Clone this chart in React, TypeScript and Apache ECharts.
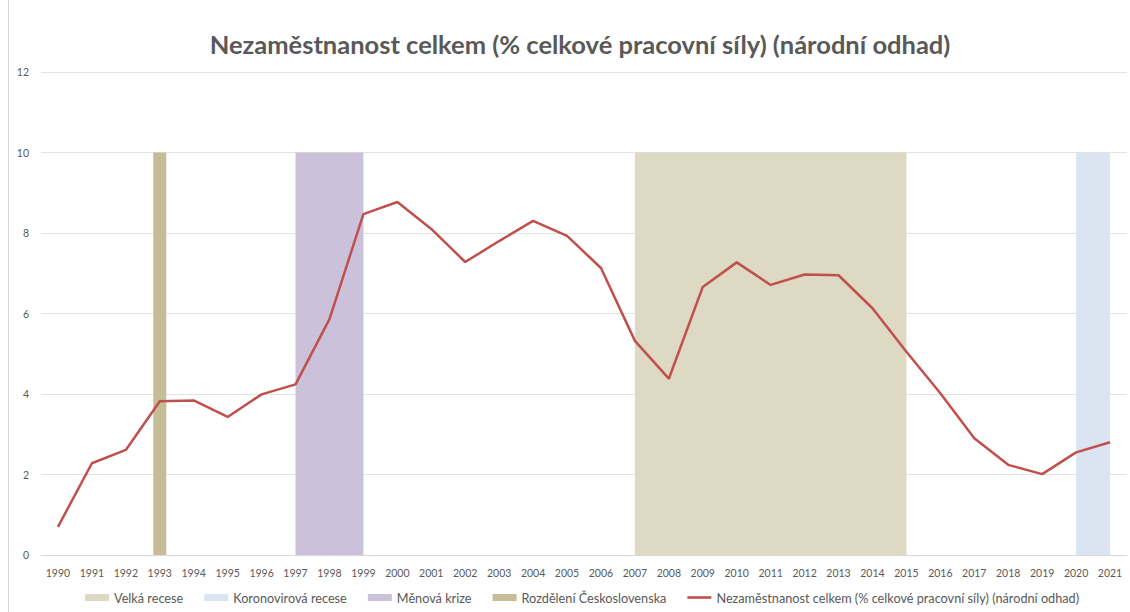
import React, { useEffect, useRef } from "react";
import * as echarts from "echarts";

const years = ["1990","1991","1992","1993","1994","1995","1996","1997","1998","1999","2000","2001","2002","2003","2004","2005","2006","2007","2008","2009","2010","2011","2012","2013","2014","2015","2016","2017","2018","2019","2020","2021"];
const unemployment = [0.70,2.28,2.61,3.82,3.84,3.43,3.99,4.24,5.86,8.47,8.77,8.10,7.28,7.80,8.30,7.93,7.13,5.32,4.38,6.66,7.27,6.71,6.97,6.95,6.13,5.05,4.02,2.90,2.24,2.01,2.55,2.80];
const bandHeight = 10;
const velkaRecese = ["2007","2008","2009","2010","2011","2012","2013","2014","2015"];
const koronaRecese = ["2020","2021"];
const menovaKrize = ["1997","1998","1999"];
const rozdeleni = ["1993"];
const yTicks = [0, 2, 4, 6, 8, 10, 12];

const LINE_NAME = "Nezaměstnanost celkem (% celkové pracovní síly) (národní odhad)";
const FONT = "Lato";

function band(list: string[]) {
  return years.map((y) => (list.includes(y) ? bandHeight : null));
}

export default function App() {
  const ref = useRef<HTMLDivElement>(null);
  useEffect(() => {
    const chart = echarts.init(ref.current!, undefined, { renderer: "svg" });
    const areaSeries = (name: string, list: string[], color: string) => ({
      name,
      type: "line",
      data: band(list),
      symbol: "none",
      lineStyle: { width: 0, color },
      itemStyle: { color },
      areaStyle: { color, opacity: 1 },
      connectNulls: false,
      z: 1,
    });
    chart.setOption({
      animation: false,
      textStyle: { fontFamily: FONT },
      title: {
        text: "Nezaměstnanost celkem (% celkové pracovní síly) (národní odhad)",
        left: 575,
        textAlign: "center",
        top: 26,
        textStyle: { fontSize: 25.5, fontWeight: "bold", color: "#595959", fontFamily: FONT },
      },
      grid: { left: 41, right: 3, top: 72, bottom: 57, containLabel: false },
      xAxis: {
        type: "category",
        data: years,
        boundaryGap: true,
        axisLine: { show: true, lineStyle: { color: "#D9D9D9", width: 1 } },
        axisTick: { show: false },
        axisLabel: { color: "#595959", fontSize: 10.5, margin: 12, interval: 0, fontFamily: FONT },
        splitLine: { show: false },
      },
      yAxis: {
        type: "value",
        min: yTicks[0],
        max: yTicks[yTicks.length - 1],
        interval: 2,
        axisLine: { show: false },
        axisTick: { show: false },
        axisLabel: { color: "#595959", fontSize: 10.5, margin: 12, fontFamily: FONT },
        splitLine: { lineStyle: { color: "#E3E3E3", width: 1 } },
      },
      legend: {
        bottom: 3,
        left: 80,
        itemGap: 21,
        itemWidth: 24,
        itemHeight: 7,
        textStyle: { color: "#595959", fontSize: 12.7, fontFamily: FONT },
        data: [
          { name: "Velká recese", icon: "rect" },
          { name: "Koronovirová recese", icon: "rect" },
          { name: "Měnová krize", icon: "rect" },
          { name: "Rozdělení Československa", icon: "rect" },
          { name: LINE_NAME, icon: "path://M0,0 L24,0 L24,2.6 L0,2.6 Z" },
        ],
      },
      series: [
        areaSeries("Velká recese", velkaRecese, "#DDD9C3"),
        areaSeries("Koronovirová recese", koronaRecese, "#DBE5F1"),
        areaSeries("Měnová krize", menovaKrize, "#CCC1DA"),
        {
          name: "Rozdělení Československa",
          type: "bar",
          data: band(rozdeleni),
          barWidth: 13,
          itemStyle: { color: "#C4BD97" },
          z: 1,
        },
        {
          name: LINE_NAME,
          type: "line",
          data: unemployment,
          symbol: "none",
          lineStyle: { color: "#C0504D", width: 2.5 },
          itemStyle: { color: "#C0504D" },
          z: 5,
        },
      ],
      graphic: [
        {
          type: "line",
          shape: { x1: 8.5, y1: 0, x2: 8.5, y2: 612 },
          style: { stroke: "#D9D9D9", lineWidth: 1 },
        },
      ],
    });
    return () => chart.dispose();
  }, []);
  return (
    <div
      ref={ref}
      style={{ position: "absolute", left: 0, top: 0, width: 1130, height: 612, background: "#fff" }}
    />
  );
}
